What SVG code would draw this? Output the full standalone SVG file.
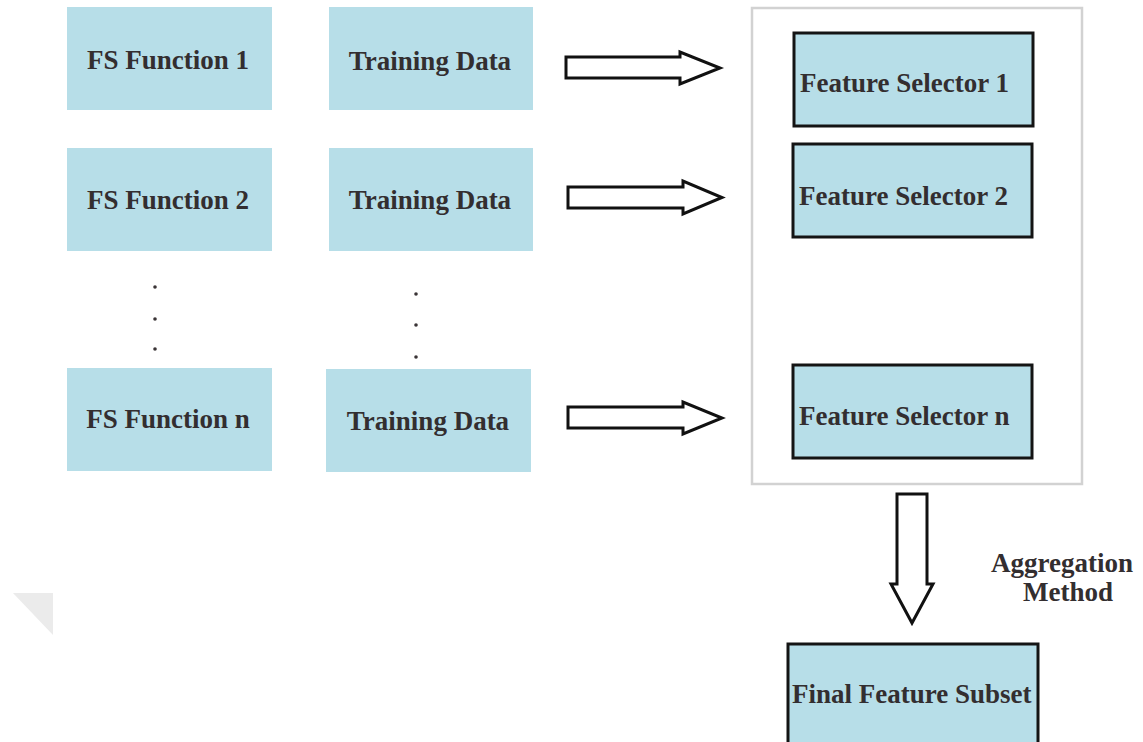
<svg xmlns="http://www.w3.org/2000/svg" width="1143" height="742" viewBox="0 0 1143 742">
  <defs>
    <style>
      .plain { fill: #b7dee8; }
      .boxed { fill: #b7dee8; stroke: #141414; stroke-width: 3; }
      .frame { fill: none; stroke: #d2d2d2; stroke-width: 2.5; }
      .lbl { font-family: "Liberation Serif", "Times New Roman", serif; font-weight: bold; font-size: 27px; fill: #332e30; }
      .mid { text-anchor: middle; }
      .arrow { fill: #ffffff; stroke: #111111; stroke-width: 3; stroke-linejoin: miter; }
      .dot { fill: #3a3436; }
    </style>
  </defs>

  <rect width="1143" height="742" fill="#ffffff"/>

  <!-- faint corner mark -->
  <polygon points="13,593 53,593 53,635" fill="#ebebeb"/>

  <!-- selector container -->
  <rect class="frame" x="752" y="8" width="330" height="476"/>

  <!-- FS function column -->
  <g id="fs1"><rect class="plain" x="67" y="7" width="205" height="103"/><text class="lbl mid" x="168" y="69">FS Function 1</text></g>
  <g id="fs2"><rect class="plain" x="67" y="148" width="205" height="103"/><text class="lbl mid" x="168" y="209">FS Function 2</text></g>
  <g id="fsn"><rect class="plain" x="67" y="368" width="205" height="103"/><text class="lbl mid" x="168" y="428">FS Function n</text></g>

  <!-- training data column -->
  <g id="td1"><rect class="plain" x="329" y="7" width="204" height="103"/><text class="lbl mid" x="430" y="70">Training Data</text></g>
  <g id="td2"><rect class="plain" x="329" y="148" width="204" height="103"/><text class="lbl mid" x="430" y="209">Training Data</text></g>
  <g id="tdn"><rect class="plain" x="326" y="369" width="205" height="103"/><text class="lbl mid" x="428" y="430">Training Data</text></g>

  <!-- ellipsis dots -->
  <g id="dots">
    <circle class="dot" cx="155" cy="287" r="1.8"/>
    <circle class="dot" cx="155" cy="319" r="1.8"/>
    <circle class="dot" cx="155" cy="349" r="1.8"/>
    <circle class="dot" cx="416" cy="294" r="1.8"/>
    <circle class="dot" cx="416" cy="325" r="1.8"/>
    <circle class="dot" cx="416" cy="357" r="1.8"/>
  </g>

  <!-- feature selectors -->
  <g id="sel1"><rect class="boxed" x="794" y="33" width="239" height="93"/><text class="lbl" x="800" y="92">Feature Selector 1</text></g>
  <g id="sel2"><rect class="boxed" x="793" y="144" width="239" height="93"/><text class="lbl" x="799" y="205">Feature Selector 2</text></g>
  <g id="seln"><rect class="boxed" x="793" y="365" width="239" height="93"/><text class="lbl" x="799" y="425">Feature Selector n</text></g>

  <!-- final subset -->
  <g id="final"><rect class="boxed" x="788" y="644" width="250" height="110"/><text class="lbl" x="792" y="703">Final Feature Subset</text></g>

  <!-- block arrows -->
  <g id="connectors">
    <polygon class="arrow" points="566,57 680,57 680,52 720,68 680,84 680,78 566,78"/>
    <polygon class="arrow" points="568,187 683,187 683,181 722,197.5 683,214 683,208 568,208"/>
    <polygon class="arrow" points="568,407 683,407 683,402 722,418 683,434 683,428 568,428"/>
    <polygon class="arrow" points="897,494 927,494 927,584 933,584 912,623 891,584 897,584"/>
  </g>

  <!-- aggregation label -->
  <g id="agg">
    <text class="lbl mid" x="1062" y="572">Aggregation</text>
    <text class="lbl mid" x="1068" y="601">Method</text>
  </g>
</svg>
